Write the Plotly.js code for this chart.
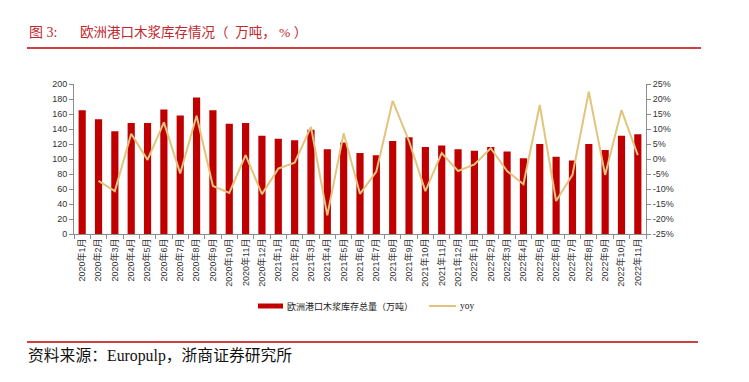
<!DOCTYPE html>
<html>
<head>
<meta charset="utf-8">
<script src="https://cdn.plot.ly/plotly-3.0.1.min.js"></script>
<style>
html,body{margin:0;padding:0;background:#fff;}
#chart{width:749px;height:382px;}
</style>
</head>
<body>
<div id="chart"></div>
<script>
const months = [
  "2020年1月","2020年2月","2020年3月","2020年4月","2020年5月","2020年6月","2020年7月","2020年8月","2020年9月","2020年10月","2020年11月","2020年12月",
  "2021年1月","2021年2月","2021年3月","2021年4月","2021年5月","2021年6月","2021年7月","2021年8月","2021年9月","2021年10月","2021年11月","2021年12月",
  "2022年1月","2022年2月","2022年3月","2022年4月","2022年5月","2022年6月","2022年7月","2022年8月","2022年9月","2022年10月","2022年11月"
];
const stock = [
  165, 153, 137, 148, 148, 166, 158, 182, 165, 147, 148, 131,
  127, 125, 139, 113, 122, 108, 105, 124, 129, 116, 118, 113,
  111, 116, 110, 101, 120, 103, 98, 120, 112, 131, 133
];
const yoy = [
  null, -7.3, -10.7, 8.4, -0.3, 12.2, -4.8, 14.4, -9.0, -11.3, 1.3, -11.7,
  -3.2, -1.2, 10.7, -18.8, 8.6, -11.6, -4.2, 19.4, 6.0, -10.7, 2.0, -4.0,
  -1.8, 3.6, -4.0, -8.4, 18.0, -14.0, -5.3, 22.4, -5.3, 16.3, 1.3
];
const leftTicks = [0,20,40,60,80,100,120,140,160,180,200];
const rightTicks = [-25,-20,-15,-10,-5,0,5,10,15,20,25];
const rightTickText = ["-25%","-20%","-15%","-10%","-5%","0%","5%","10%","15%","20%","25%"];
const barName = "欧洲港口木浆库存总量（万吨）";
const lineName = "yoy";
const titleLabel = "图 3:";
const titleText = "欧洲港口木浆库存情况（&nbsp;&nbsp;万吨，&nbsp;%&nbsp;）";
const sourceText = "资料来源：Europulp，浙商证券研究所";

const red = "#C00000";
const gold = "#E2C47C";
const axisColor = "#8c8c8c";
const tickFont = {family: "Liberation Sans, Arial, Noto Sans CJK SC", size: 9, color: "#333"};
const serif = "Liberation Serif, Noto Sans CJK SC";

const traces = [
  {type: "bar", x: months, y: stock, name: barName, marker: {color: red}, yaxis: "y", hoverinfo: "skip"},
  {type: "scatter", mode: "lines", x: months, y: yoy, name: lineName, line: {color: gold, width: 2}, yaxis: "y2", connectgaps: false, hoverinfo: "skip"}
];

const px = v => (v - 74) / 572;
const py = v => (234 - v) / 150;

const layout = {
  width: 749, height: 382,
  margin: {l: 74, r: 103, t: 84, b: 148},
  paper_bgcolor: "#fff", plot_bgcolor: "#fff",
  showlegend: false,
  bargap: 0.56,
  xaxis: {
    type: "category", tickangle: -90, tickfont: tickFont,
    showline: true, linecolor: axisColor, linewidth: 1,
    ticks: "outside", tickson: "boundaries", ticklen: 4, tickcolor: axisColor,
    showgrid: false, zeroline: false, fixedrange: true
  },
  yaxis: {
    range: [0, 200], tickvals: leftTicks, tickfont: tickFont,
    showline: true, linecolor: axisColor, linewidth: 1,
    ticks: "outside", ticklen: 4, tickcolor: axisColor,
    showgrid: false, zeroline: false, fixedrange: true
  },
  yaxis2: {
    range: [-25, 25], overlaying: "y", side: "right",
    tickvals: rightTicks, ticktext: rightTickText, tickfont: tickFont,
    showline: true, linecolor: axisColor, linewidth: 1,
    ticks: "outside", ticklen: 4, tickcolor: axisColor,
    showgrid: false, zeroline: false, fixedrange: true
  },
  shapes: [
    {type: "line", xref: "paper", yref: "paper", x0: px(27), x1: px(701), y0: py(48), y1: py(48), line: {color: "#C00000", width: 1.5}},
    {type: "line", xref: "paper", yref: "paper", x0: px(27), x1: px(698), y0: py(342), y1: py(342), line: {color: "#C00000", width: 1.5}},
    {type: "rect", xref: "paper", yref: "paper", x0: px(258), x1: px(283), y0: py(303.5), y1: py(308.5), fillcolor: red, line: {width: 0}},
    {type: "line", xref: "paper", yref: "paper", x0: px(429), x1: px(456), y0: py(306), y1: py(306), line: {color: gold, width: 2}}
  ],
  annotations: [
    {xref: "paper", yref: "paper", x: px(27), y: py(32), xanchor: "left", yanchor: "middle", showarrow: false,
     text: titleLabel, font: {family: serif, size: 14, color: "#C0282F"}},
    {xref: "paper", yref: "paper", x: px(78), y: py(32), xanchor: "left", yanchor: "middle", showarrow: false,
     text: titleText, font: {family: serif, size: 13.5, color: "#C0282F"}},
    {xref: "paper", yref: "paper", x: px(26), y: py(356), xanchor: "left", yanchor: "middle", showarrow: false,
     text: sourceText, font: {family: serif, size: 15.8, color: "#111"}},
    {xref: "paper", yref: "paper", x: px(285), y: py(306), xanchor: "left", yanchor: "middle", showarrow: false,
     text: barName, font: {family: serif, size: 9, color: "#222"}},
    {xref: "paper", yref: "paper", x: px(458), y: py(306), xanchor: "left", yanchor: "middle", showarrow: false,
     text: lineName, font: {family: serif, size: 9.5, color: "#222"}}
  ]
};

Plotly.newPlot("chart", traces, layout, {staticPlot: true, displayModeBar: false});
</script>
</body>
</html>
